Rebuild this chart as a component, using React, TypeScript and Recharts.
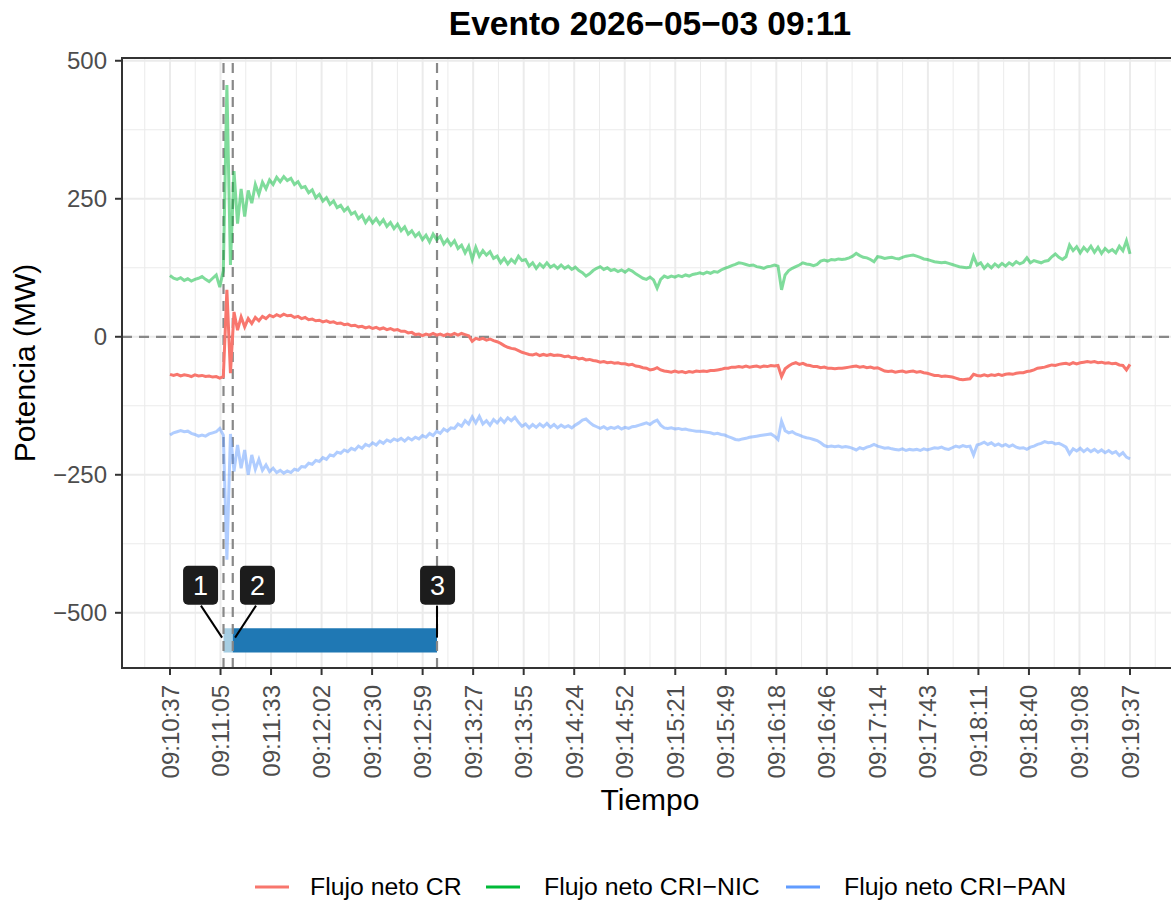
import React from "react";
import {
  LineChart,
  Line,
  XAxis,
  YAxis,
  CartesianGrid,
  ReferenceLine,
  ReferenceArea,
  ReferenceDot,
} from "recharts";

// samples every 2 s, seconds after 09:10:00, first sample at 09:10:37
const T0 = 37;
const STEP = 2;

const crValues = [
  -68, -70, -68, -71, -69, -70, -72, -69, -71, -70,
  -72, -71, -73, -72, -75, -72, 85, -66, 45, 12,
  36, 18, 33, 24, 35, 29, 37, 33, 39, 36,
  40, 37, 41, 38, 39, 35, 37, 33, 35, 31,
  32, 29, 30, 27, 29, 26, 27, 24, 25, 22,
  23, 20, 21, 18, 19, 16, 18, 15, 17, 14,
  16, 13, 15, 12, 13, 10, 10, 7, 8, 4,
  5, 2, 5, 3, 6, 3, 5, 2, 5, 3,
  6, 3, 6, 4, 2, -8, -3, -5, -3, -6,
  -4, -7, -9, -12, -16, -19, -21, -22, -25, -28,
  -30, -32, -33, -31, -34, -32, -34, -32, -34, -33,
  -34, -36, -35, -38, -37, -40, -39, -42, -41, -43,
  -44, -46, -45, -47, -46, -48, -47, -49, -49, -51,
  -50, -53, -54, -56, -57, -60, -59, -56, -60, -62,
  -63, -64, -62, -64, -63, -65, -63, -64, -62, -63,
  -62, -63, -61, -61, -60, -59, -57, -57, -55, -55,
  -54, -55, -53, -55, -54, -53, -55, -53, -54, -52,
  -53, -52, -72, -58, -53, -49, -47, -50, -48, -51,
  -52, -54, -54, -56, -55, -57, -57, -58, -57, -57,
  -56, -55, -54, -53, -55, -54, -56, -55, -57, -56,
  -59, -62, -63, -62, -64, -63, -62, -64, -63, -62,
  -64, -63, -65, -66, -68, -70, -70, -72, -71, -72,
  -73, -75, -77, -78, -77, -76, -68, -70, -71, -69,
  -71, -69, -70, -68, -70, -68, -67, -68, -66, -65,
  -65, -63, -62, -60, -57, -56, -55, -53, -51, -52,
  -50, -49, -48, -50, -47, -49, -47, -46, -45, -46,
  -45, -47, -46, -48, -47, -49, -48, -51, -52, -60,
  -50,
];

const nicValues = [
  111, 106, 104, 107, 102, 105, 101, 104, 106, 109,
  104, 100, 106, 112, 90, 120, 456, 130, 300, 205,
  268, 218, 265, 242, 276, 258, 280, 268, 284, 276,
  289, 281, 290, 283, 287, 276, 281, 270, 272, 261,
  266, 252, 258, 246, 252, 240, 246, 234, 238, 228,
  234, 222, 226, 214, 220, 207, 216, 206, 214, 204,
  212, 200, 207, 196, 204, 192, 199, 186, 192, 182,
  188, 176, 184, 172, 186, 176, 182, 168, 176, 166,
  174, 160, 166, 152, 164, 140, 162, 146, 156, 148,
  154, 142, 146, 134, 142, 132, 140, 134, 146, 138,
  140, 128, 134, 124, 132, 126, 134, 126, 130, 124,
  130, 124, 128, 122, 126, 120, 116, 110, 114, 120,
  124, 127, 122, 125, 120, 122, 118, 121, 117, 122,
  119, 114, 110, 106, 104, 108, 103, 88, 104, 110,
  107, 110, 108, 111, 109, 112, 110, 113, 114, 116,
  114, 117, 115, 118, 117, 121, 124, 126, 129, 131,
  134, 133, 131, 129, 130, 127, 126, 124, 127, 128,
  130, 128, 85, 112, 120, 124, 127, 130, 134, 132,
  131, 129, 131, 137, 139, 137, 140, 139, 141, 140,
  141, 143, 146, 151, 147, 144, 143, 140, 136, 145,
  144, 142, 143, 144, 142, 141, 144, 146, 147, 148,
  146, 144, 141, 140, 138, 136, 135, 134, 135, 133,
  131, 129, 127, 126, 125, 126, 146, 130, 134, 124,
  131, 125, 132, 127, 133, 128, 134, 130, 136, 132,
  135, 143, 134, 138, 136, 134, 137, 138, 145, 150,
  144, 140, 145, 166, 156, 163, 152, 162, 155, 164,
  153, 162, 151, 160, 154, 158, 152, 164, 156, 174,
  150,
];

const panValues = [
  -178, -174, -172, -170, -172, -171, -175, -177, -180, -178,
  -180, -176, -174, -172, -166, -178, -404, -176, -244, -196,
  -238, -205, -250, -214, -240, -222, -242, -232, -244, -238,
  -246, -242, -247, -243, -246, -240, -242, -235, -236, -229,
  -231, -224, -226, -219, -222, -214, -216, -209, -211, -205,
  -208, -202, -205, -198, -202, -195, -198, -192, -196, -189,
  -193, -187, -190, -185, -188, -184, -189, -183, -187, -182,
  -185, -179, -182, -175, -179, -171, -175, -167, -171, -165,
  -166, -158, -162, -152, -158, -145, -156, -144, -158, -152,
  -160, -150, -156, -148, -155, -147, -152, -146, -155, -162,
  -158, -165, -159, -164, -158, -163, -157, -164, -159, -165,
  -160, -164, -161, -165, -160, -156, -151, -149, -155, -160,
  -163, -166, -163, -167, -164, -166, -163, -167, -164, -166,
  -163, -162, -160, -158, -156, -159, -154, -151, -160, -165,
  -166, -165, -167, -166, -168, -167, -169, -170, -171, -171,
  -172, -173, -174, -176, -175, -177, -178, -181, -183, -186,
  -187, -185, -184, -182, -181, -180, -179, -178, -177, -176,
  -180, -186, -153, -170, -174, -172, -176, -178, -181, -183,
  -184, -186, -188, -192, -197, -199, -198, -199, -198, -200,
  -199, -200, -202, -205, -201, -203, -200, -198, -195, -198,
  -200, -202, -201, -203, -204, -205, -203, -206, -204, -205,
  -204, -206, -203, -205, -203, -201, -202, -200, -203, -204,
  -201, -198, -200, -197, -199, -198, -214, -196, -194, -191,
  -195, -192, -197, -194, -198, -195, -199, -196, -200, -202,
  -201, -204, -200, -198, -195, -193, -190, -192, -191, -194,
  -193, -196, -200, -212, -203, -207, -202, -208, -203, -208,
  -204, -209, -205, -210, -206, -211, -208, -215, -210, -218,
  -221,
];

const tickLabels = [
  "09:10:37", "09:11:05", "09:11:33", "09:12:02", "09:12:30",
  "09:12:59", "09:13:27", "09:13:55", "09:14:24", "09:14:52",
  "09:15:21", "09:15:49", "09:16:18", "09:16:46", "09:17:14",
  "09:17:43", "09:18:11", "09:18:40", "09:19:08", "09:19:37",
];
const yTicks = [-500, -250, 0, 250, 500];
const yTickLabels = ["\u2212500", "\u2212250", "0", "250", "500"];
const yMinor = [-375, -125, 125, 375];

// event markers (s after 09:10:00)
const eventTimes = [67.1, 72.3, 187.2];
const phases = [
  { start: 67.1, end: 72.3, color: "#A6CEE3" },
  { start: 72.3, end: 187.2, color: "#1F78B4" },
];
const markers = [
  { id: "1", labelT: 54.2, fromT: 54.4, toT: 66.3 },
  { id: "2", labelT: 86.2, fromT: 85.4, toT: 73.6 },
  { id: "3", labelT: 187.5, fromT: 187.2, toT: 187.2 },
];
const PHASE_Y = -550;
const LABEL_Y = -450;

const series = [
  { key: "cr", name: "Flujo neto CR", color: "#F8766D", opacity: 1 },
  { key: "nic", name: "Flujo neto CRI\u2212NIC", color: "#00BA38", opacity: 0.5 },
  { key: "pan", name: "Flujo neto CRI\u2212PAN", color: "#619CFF", opacity: 0.5 },
];

const data = crValues.map((v, i) => ({
  t: T0 + i * STEP,
  cr: v,
  nic: nicValues[i],
  pan: panValues[i],
}));

const tickGap = 540 / 19;
const xTicks = tickLabels.map((_, i) => 37 + i * tickGap);
const xMinor = [37 - tickGap / 2, ...xTicks.map((v) => v + tickGap / 2)];

const FONT = "'Liberation Sans', Arial, Helvetica, sans-serif";

const XTick = (props: any) => {
  const { x, y, index } = props;
  return (
    <text
      x={x}
      y={y}
      transform={`rotate(-90, ${x}, ${y})`}
      textAnchor="end"
      dominantBaseline="central"
      fontSize={24}
      fill="#4D4D4D"
      fontFamily={FONT}
    >
      {tickLabels[index]}
    </text>
  );
};

const LabelBox = ({ cx, cy, text }: any) => (
  <g>
    <rect x={cx - 17.5} y={cy - 19.5} width={35} height={39} rx={5} fill="#1C1C1C" />
    <text
      x={cx}
      y={cy + 1}
      textAnchor="middle"
      dominantBaseline="central"
      fontSize={27}
      fill="#FFFFFF"
      fontFamily={FONT}
    >
      {text}
    </text>
  </g>
);

export default function App() {
  return (
    <div
      style={{
        position: "fixed",
        left: 0,
        top: 0,
        width: 1171,
        height: 905,
        overflow: "hidden",
        background: "#FFFFFF",
      }}
    >
      <LineChart
        width={1186}
        height={905}
        data={data}
        margin={{ top: 58, right: 8, bottom: 0, left: 0 }}
      >
        <CartesianGrid
          stroke="#EBEBEB"
          strokeWidth={1}
          verticalValues={xMinor}
          horizontalValues={yMinor}
        />
        <CartesianGrid
          stroke="#EBEBEB"
          strokeWidth={2}
          verticalValues={xTicks}
          horizontalValues={yTicks}
        />
        <XAxis
          dataKey="t"
          type="number"
          domain={[10, 604]}
          ticks={xTicks}
          interval={0}
          height={237}
          axisLine={false}
          tickLine={{ stroke: "#333333", strokeWidth: 2 }}
          tickSize={7}
          tickMargin={10}
          tick={<XTick />}
        />
        <YAxis
          type="number"
          domain={[-600, 505]}
          ticks={yTicks}
          interval={0}
          width={122}
          axisLine={false}
          tickLine={{ stroke: "#333333", strokeWidth: 2 }}
          tickSize={7}
          tickMargin={8}
          tick={{ fontSize: 24, fill: "#4D4D4D", fontFamily: FONT }}
          tickFormatter={(v: number) => yTickLabels[yTicks.indexOf(v)]}
        />
        <ReferenceLine y={0} stroke="#888888" strokeWidth={2.2} strokeDasharray="10 7" />
        {eventTimes.map((t) => (
          <ReferenceLine key={t} x={t} stroke="#888888" strokeWidth={2.2} strokeDasharray="10 7" />
        ))}
        {series.map((s) => (
          <Line
            key={s.key}
            dataKey={s.key}
            name={s.name}
            type="linear"
            stroke={s.color}
            strokeOpacity={s.opacity}
            strokeWidth={3}
            dot={false}
            isAnimationActive={false}
          />
        ))}
        {phases.map((p) => (
          <ReferenceArea
            key={p.start}
            x1={p.start}
            x2={p.end}
            y1={PHASE_Y - 22}
            y2={PHASE_Y + 22}
            fill={p.color}
            fillOpacity={1}
            stroke="none"
          />
        ))}
        {markers.map((m) => (
          <ReferenceLine
            key={"l" + m.id}
            segment={[
              { x: m.fromT, y: LABEL_Y - 37 },
              { x: m.toT, y: PHASE_Y + 5 },
            ]}
            stroke="#000000"
            strokeWidth={2}
          />
        ))}
        {markers.map((m) => (
          <ReferenceDot
            key={"d" + m.id}
            x={m.labelT}
            y={LABEL_Y}
            r={0}
            shape={(p: any) => <LabelBox cx={p.cx} cy={p.cy} text={m.id} />}
          />
        ))}
      </LineChart>
      <svg
        width={1171}
        height={905}
        style={{ position: "absolute", left: 0, top: 0, pointerEvents: "none" }}
        fontFamily={FONT}
      >
        <rect x={122} y={58} width={1056} height={610} fill="none" stroke="#333333" strokeWidth={2} />
        <text x={650} y={35} textAnchor="middle" fontSize={33.5} fontWeight="bold" fill="#000">
          Evento 2026{"\u2212"}05{"\u2212"}03 09:11
        </text>
        <text x={650} y={810} textAnchor="middle" fontSize={30} fill="#000">
          Tiempo
        </text>
        <text
          x={35}
          y={363}
          transform="rotate(-90, 35, 363)"
          textAnchor="middle"
          fontSize={30}
          fill="#000"
        >
          Potencia (MW)
        </text>
        {series.map((s, i) => {
          const keyX = [255, 486, 786][i];
          const textX = [310, 544, 844][i];
          return (
            <g key={s.key}>
              <line x1={keyX} x2={keyX + 34} y1={887} y2={887} stroke={s.color} strokeWidth={3} />
              <text x={textX} y={895} fontSize={24.8} fill="#000">
                {s.name}
              </text>
            </g>
          );
        })}
      </svg>
    </div>
  );
}
